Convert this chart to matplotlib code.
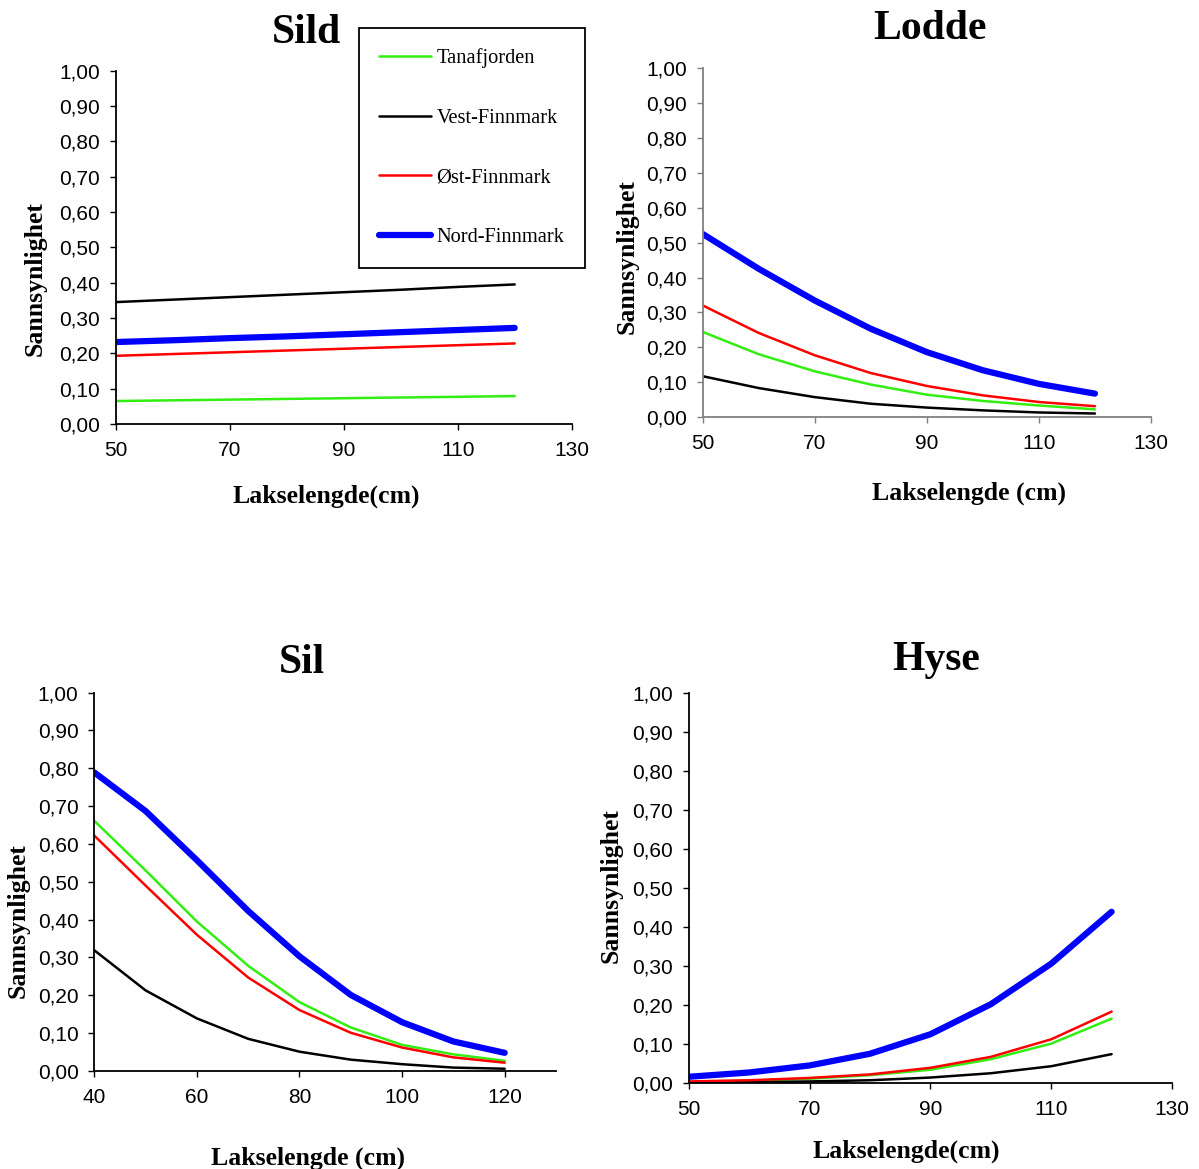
import matplotlib
matplotlib.use('Agg')
import matplotlib.pyplot as plt

# regions and colours (legend order)
regions = ['Tanafjorden', 'Vest-Finnmark', 'Øst-Finnmark', 'Nord-Finnmark']
colors = ['#33ee11', '#000000', '#ff0000', '#0000ff']
widths = [1.8, 1.8, 1.8, 4.5]

# Sild
sild_x = [50, 60, 70, 80, 90, 100, 110, 120]
sild_tana = [0.065, 0.067, 0.069, 0.071, 0.073, 0.075, 0.077, 0.079]
sild_vest = [0.345, 0.352, 0.359, 0.366, 0.373, 0.380, 0.388, 0.395]
sild_ost = [0.193, 0.198, 0.203, 0.208, 0.213, 0.218, 0.223, 0.228]
sild_nord = [0.232, 0.237, 0.243, 0.248, 0.254, 0.260, 0.266, 0.272]

# Lodde
lodde_x = [50, 60, 70, 80, 90, 100, 110, 120]
lodde_tana = [0.244, 0.180, 0.131, 0.093, 0.064, 0.046, 0.033, 0.022]
lodde_vest = [0.117, 0.083, 0.057, 0.038, 0.027, 0.019, 0.013, 0.010]
lodde_ost = [0.320, 0.241, 0.177, 0.126, 0.089, 0.062, 0.043, 0.031]
lodde_nord = [0.525, 0.425, 0.334, 0.253, 0.186, 0.134, 0.095, 0.067]

# Sil
sil_x = [40, 50, 60, 70, 80, 90, 100, 110, 120]
sil_tana = [0.661, 0.530, 0.395, 0.278, 0.182, 0.115, 0.069, 0.044, 0.027]
sil_vest = [0.319, 0.213, 0.139, 0.085, 0.051, 0.030, 0.018, 0.009, 0.006]
sil_ost = [0.622, 0.490, 0.360, 0.247, 0.161, 0.101, 0.062, 0.036, 0.022]
sil_nord = [0.789, 0.687, 0.557, 0.423, 0.303, 0.201, 0.129, 0.078, 0.048]

# Hyse
hyse_x = [50, 60, 70, 80, 90, 100, 110, 120]
hyse_tana = [0.003, 0.006, 0.011, 0.020, 0.034, 0.061, 0.101, 0.165]
hyse_vest = [0.001, 0.002, 0.004, 0.007, 0.014, 0.025, 0.043, 0.074]
hyse_ost = [0.004, 0.007, 0.013, 0.022, 0.039, 0.067, 0.112, 0.183]
hyse_nord = [0.016, 0.027, 0.045, 0.075, 0.125, 0.202, 0.306, 0.439]

yticks = [0.0, 0.1, 0.2, 0.3, 0.4, 0.5, 0.6, 0.7, 0.8, 0.9, 1.0]

W, H = 1199, 1169
fig = plt.figure(figsize=(W / 100, H / 100), dpi=100)

SERIF = 'Liberation Serif'
SANS = 'Liberation Sans'


def px_axes(x0, y0, x1, y1):
    return fig.add_axes([x0 / W, 1 - y1 / H, (x1 - x0) / W, (y1 - y0) / H])


def ftext(x, y, s, **kw):
    fig.text(x / W, 1 - y / H, s, **kw)


def setup(ax, x, series, xlim, xticks, spine_color):
    for ys, c, lw in zip(series, colors, widths):
        ax.plot(x, ys, color=c, lw=lw, solid_capstyle='round')
    ax.set_xlim(*xlim)
    ax.set_ylim(0, 1)
    ax.set_xticks(xticks)
    ax.set_xticklabels([str(v) for v in xticks], fontfamily=SANS, fontsize=15)
    ax.set_yticks(yticks)
    ax.set_yticklabels([f'{v:.2f}'.replace('.', ',') for v in yticks],
                       fontfamily=SANS, fontsize=15)
    ax.spines['top'].set_visible(False)
    ax.spines['right'].set_visible(False)
    for s in ('left', 'bottom'):
        ax.spines[s].set_color(spine_color)
        ax.spines[s].set_linewidth(1.3)
    ax.tick_params(direction='out', length=4.3, width=1.0, color=spine_color)
    ax.tick_params(axis='x', pad=8)
    ax.tick_params(axis='y', pad=7)
    ax.patch.set_alpha(0)


# Sild
ax1 = px_axes(115.7, 70.7, 571.7, 424)
setup(ax1, sild_x, [sild_tana, sild_vest, sild_ost, sild_nord],
      (50, 130), [50, 70, 90, 110, 130], 'black')
# Lodde
ax2 = px_axes(702.7, 68.3, 1151, 417)
setup(ax2, lodde_x, [lodde_tana, lodde_vest, lodde_ost, lodde_nord],
      (50, 130), [50, 70, 90, 110, 130], '#808080')
# Sil
ax3 = px_axes(94.3, 692.6, 556, 1071)
setup(ax3, sil_x, [sil_tana, sil_vest, sil_ost, sil_nord],
      (40, 130), [40, 60, 80, 100, 120], 'black')
# Hyse
ax4 = px_axes(688.8, 693, 1172, 1083)
setup(ax4, hyse_x, [hyse_tana, hyse_vest, hyse_ost, hyse_nord],
      (50, 130), [50, 70, 90, 110, 130], 'black')

# legend from the Sild lines
leg = fig.legend(ax1.get_lines(), regions, loc='upper left',
                 bbox_to_anchor=(359 / W, 1 - 27.7 / H), bbox_transform=fig.transFigure,
                 borderaxespad=0, frameon=True, fancybox=False, framealpha=1,
                 edgecolor='black', prop={'family': SERIF, 'size': 14.7},
                 handlelength=2.55, handletextpad=0.25, labelspacing=1.98, borderpad=1.0)
leg.get_frame().set_linewidth(1.3)

# titles
tkw = dict(fontfamily=SERIF, fontweight='bold', fontsize=30, ha='center', va='baseline')
ftext(306, 43, 'Sild', **tkw)
ftext(930, 39, 'Lodde', **tkw)
ftext(302, 673, 'Sil', **tkw)
ftext(936, 670, 'Hyse', **tkw)

# x labels
lkw = dict(fontfamily=SERIF, fontweight='bold', fontsize=18.5, ha='center', va='baseline')
ftext(326, 503, 'Lakselengde(cm)', **lkw)
ftext(969, 500, 'Lakselengde (cm)', **lkw)
ftext(308, 1165, 'Lakselengde (cm)', **lkw)
ftext(906, 1158, 'Lakselengde(cm)', **lkw)

# y labels
ykw = dict(fontfamily=SERIF, fontweight='bold', fontsize=18.5, ha='center', va='center',
           rotation=90)
ftext(35, 279, 'Sannsynlighet', **ykw)
ftext(627, 257, 'Sannsynlighet', **ykw)
ftext(18, 921, 'Sannsynlighet', **ykw)
ftext(611, 886, 'Sannsynlighet', **ykw)

fig.savefig('out.png', dpi=100)
